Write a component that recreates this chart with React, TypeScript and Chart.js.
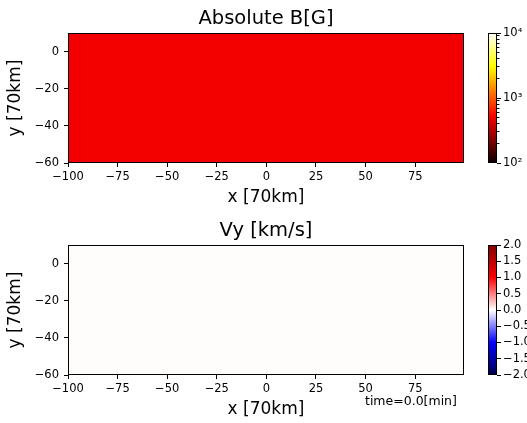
import React, { useEffect, useRef } from 'react';
import { Chart, registerables } from 'chart.js';

Chart.register(...registerables);

const FONT = 'DejaVu Sans';

// ---- data ----
const xEdges = [-100, 99.6];
const yEdges = [-60, 10];
const absB = [[490]];
const vyVals = [[0.01]];
const xTicks = [-100, -75, -50, -25, 0, 25, 50, 75];
const yTicks = [-60, -40, -20, 0];
const bRange = [100, 10000];
const bMajorTicks = [100, 1000, 10000];
const bMajorLabels = ['10²', '10³', '10⁴'];
const bMinorTicks = [200, 300, 400, 500, 600, 700, 800, 900, 2000, 3000, 4000, 5000, 6000, 7000, 8000, 9000];
const vyRange = [-2, 2];
const vyTicks = [-2, -1.5, -1, -0.5, 0, 0.5, 1, 1.5, 2];
const titleB = 'Absolute B[G]';
const titleVy = 'Vy [km/s]';
const xLabel = 'x [70km]';
const yLabel = 'y [70km]';
const timeLabel = 'time=0.0[min]';

// ---- colormaps ----
type Stop = [number, [number, number, number]];
const HOT: Stop[] = [
  [0, [10.6, 0, 0]],
  [0.365079, [255, 0, 0]],
  [0.746032, [255, 255, 0]],
  [1, [255, 255, 255]],
];
const SEISMIC: Stop[] = [
  [0, [0, 0, 76.5]],
  [0.25, [0, 0, 255]],
  [0.5, [255, 255, 255]],
  [0.75, [255, 0, 0]],
  [1, [127.5, 0, 0]],
];

function cmap(stops: Stop[], t: number): string {
  const u = Math.max(0, Math.min(1, t));
  for (let i = 0; i < stops.length - 1; i++) {
    const [a, ca] = stops[i];
    const [b, cb] = stops[i + 1];
    if (u >= a && u <= b) {
      const f = b === a ? 0 : (u - a) / (b - a);
      const c = ca.map((v, k) => Math.round(v + (cb[k] - v) * f));
      return `rgb(${c[0]},${c[1]},${c[2]})`;
    }
  }
  const c = stops[stops.length - 1][1];
  return `rgb(${c[0]},${c[1]},${c[2]})`;
}

const normLog = (v: number) =>
  (Math.log10(v) - Math.log10(bRange[0])) / (Math.log10(bRange[1]) - Math.log10(bRange[0]));
const normLin = (v: number) => (v - vyRange[0]) / (vyRange[1] - vyRange[0]);

const fmtNum = (v: number) => (v < 0 ? '\u2212' + Math.abs(v) : String(v));
const fmtFixed = (v: number) => (v < 0 ? '\u2212' + Math.abs(v).toFixed(1) : v.toFixed(1));

const TXT = '#000';
const LINE = '#000';

function heatmapPlugin(values: number[][], norm: (v: number) => number, stops: Stop[]) {
  return {
    id: 'heatmap',
    beforeDatasetsDraw(chart: any) {
      const { ctx, chartArea } = chart;
      const xs = chart.scales.x;
      const ys = chart.scales.y;
      ctx.save();
      ctx.beginPath();
      ctx.rect(chartArea.left, chartArea.top, chartArea.right - chartArea.left, chartArea.bottom - chartArea.top);
      ctx.clip();
      for (let j = 0; j < values.length; j++) {
        for (let i = 0; i < values[j].length; i++) {
          const x0 = xs.getPixelForValue(xEdges[i]);
          const x1 = xs.getPixelForValue(xEdges[i + 1]);
          const y0 = ys.getPixelForValue(yEdges[j]);
          const y1 = ys.getPixelForValue(yEdges[j + 1]);
          ctx.fillStyle = cmap(stops, norm(values[j][i]));
          ctx.fillRect(Math.min(x0, x1), Math.min(y0, y1), Math.abs(x1 - x0), Math.abs(y1 - y0));
        }
      }
      ctx.restore();
    },
  };
}

const framePlugin = {
  id: 'frame',
  afterDatasetsDraw(chart: any) {
    const { ctx, chartArea } = chart;
    ctx.save();
    ctx.strokeStyle = LINE;
    ctx.lineWidth = 1;
    const l = Math.round(chartArea.left) + 0.5;
    const t = Math.round(chartArea.top) + 0.5;
    const r = Math.round(chartArea.right) - 0.5;
    const b = Math.round(chartArea.bottom) - 0.5;
    ctx.strokeRect(l, t, r - l, b - t);
    ctx.restore();
  },
};

function colorbarPlugin(stops: Stop[]) {
  return {
    id: 'colorbar',
    beforeDatasetsDraw(chart: any) {
      const { ctx, chartArea } = chart;
      const ys = chart.scales.y;
      const pBottom = ys.getPixelForValue(ys.min);
      const pTop = ys.getPixelForValue(ys.max);
      const g = ctx.createLinearGradient(0, pBottom, 0, pTop);
      for (const [t, c] of stops) g.addColorStop(t, `rgb(${c[0]},${c[1]},${c[2]})`);
      ctx.save();
      ctx.fillStyle = g;
      ctx.fillRect(chartArea.left, chartArea.top, chartArea.right - chartArea.left, chartArea.bottom - chartArea.top);
      ctx.restore();
    },
  };
}

const timePlugin = {
  id: 'timeText',
  afterDraw(chart: any) {
    const { ctx } = chart;
    ctx.save();
    ctx.font = `12.5px "${FONT}"`;
    ctx.fillStyle = TXT;
    ctx.textAlign = 'left';
    ctx.textBaseline = 'alphabetic';
    ctx.fillText(timeLabel, 365, 405);
    ctx.restore();
  },
};

function mainConfig(opts: {
  title: string;
  values: number[][];
  norm: (v: number) => number;
  stops: Stop[];
  padTop: number;
  padBottom: number;
  extra?: any[];
}): any {
  return {
    type: 'scatter',
    data: { datasets: [] },
    options: {
      animation: false,
      responsive: false,
      devicePixelRatio: 1,
      events: [],
      layout: { padding: { left: 0, right: 63, top: opts.padTop, bottom: opts.padBottom } },
      plugins: {
        legend: { display: false },
        tooltip: { enabled: false },
        title: {
          display: true,
          text: opts.title,
          fullSize: false,
          color: TXT,
          font: { family: FONT, size: 19.5, weight: 'normal', lineHeight: 1.2 },
          padding: { top: 0, bottom: 2.3 },
        },
      },
      scales: {
        x: {
          type: 'linear',
          min: xEdges[0],
          max: xEdges[xEdges.length - 1],
          afterBuildTicks: (s: any) => {
            s.ticks = xTicks.map((v) => ({ value: v }));
          },
          afterFit: (s: any) => {
            s.height = 44.7;
          },
          grid: { drawOnChartArea: false, drawTicks: true, tickLength: 4, tickColor: LINE, tickWidth: 1 },
          border: { display: false },
          ticks: {
            color: TXT,
            font: { family: FONT, size: 11.5 },
            padding: 3,
            maxRotation: 0,
            autoSkip: false,
            callback: (v: any) => fmtNum(Number(v)),
          },
          title: {
            display: true,
            text: xLabel,
            color: TXT,
            font: { family: FONT, size: 17, lineHeight: 1.2 },
            padding: 0,
          },
        },
        y: {
          type: 'linear',
          min: yEdges[0],
          max: yEdges[yEdges.length - 1],
          afterBuildTicks: (s: any) => {
            s.ticks = yTicks.map((v) => ({ value: v }));
          },
          afterFit: (s: any) => {
            s.width = 68;
          },
          grid: { drawOnChartArea: false, drawTicks: true, tickLength: 4, tickColor: LINE, tickWidth: 1 },
          border: { display: false },
          ticks: {
            color: TXT,
            font: { family: FONT, size: 11.5 },
            padding: 5,
            autoSkip: false,
            callback: (v: any) => fmtNum(Number(v)),
          },
          title: {
            display: true,
            text: yLabel,
            color: TXT,
            font: { family: FONT, size: 17, lineHeight: 1.2 },
            padding: { top: 5.8, bottom: 0 },
          },
        },
      },
    },
    plugins: [heatmapPlugin(opts.values, opts.norm, opts.stops), framePlugin, ...(opts.extra || [])],
  };
}

function colorbarConfig(opts: {
  log: boolean;
  range: number[];
  major: number[];
  labels: string[];
  minor: number[];
  stops: Stop[];
  padTop: number;
  padBottom: number;
}): any {
  const scaleType = opts.log ? 'logarithmic' : 'linear';
  const scales: any = {
    x: { display: false, type: 'linear', min: 0, max: 1 },
    y: {
      type: scaleType,
      position: 'right',
      weight: 1,
      min: opts.range[0],
      max: opts.range[1],
      afterBuildTicks: (s: any) => {
        s.ticks = opts.major.map((v) => ({ value: v }));
      },
      afterFit: (s: any) => {
        s.width = 30;
      },
      grid: { drawOnChartArea: false, drawTicks: true, tickLength: 4, tickColor: LINE, tickWidth: 1 },
      border: { display: false },
      ticks: {
        color: TXT,
        font: { family: FONT, size: 11.5 },
        padding: 2,
        autoSkip: false,
        callback: (_v: any, i: number) => opts.labels[i],
      },
    },
  };
  if (opts.minor.length) {
    scales.yMinor = {
      type: scaleType,
      position: 'right',
      weight: 0,
      min: opts.range[0],
      max: opts.range[1],
      afterBuildTicks: (s: any) => {
        s.ticks = opts.minor.map((v) => ({ value: v }));
      },
      afterFit: (s: any) => {
        s.width = 0;
      },
      grid: { drawOnChartArea: false, drawTicks: true, tickLength: 2.5, tickColor: LINE, tickWidth: 1 },
      border: { display: false },
      ticks: { display: false },
    };
  }
  return {
    type: 'scatter',
    data: { datasets: [] },
    options: {
      animation: false,
      responsive: false,
      devicePixelRatio: 1,
      events: [],
      layout: { padding: { left: 488, right: 0, top: opts.padTop, bottom: opts.padBottom } },
      plugins: { legend: { display: false }, tooltip: { enabled: false }, title: { display: false } },
      scales,
    },
    plugins: [colorbarPlugin(opts.stops), framePlugin],
  };
}

function ChartLayer({ make }: { make: () => any }) {
  const ref = useRef<HTMLCanvasElement | null>(null);
  useEffect(() => {
    if (!ref.current) return;
    const chart = new Chart(ref.current, make());
    return () => chart.destroy();
  }, []);
  return (
    <canvas
      ref={ref}
      width={527}
      height={423}
      style={{ position: 'absolute', left: 0, top: 0, width: 527, height: 423 }}
    />
  );
}

export default function App() {
  return (
    <div style={{ position: 'absolute', left: 0, top: 0, width: 527, height: 423, background: '#fff', overflow: 'hidden' }}>
      <ChartLayer
        make={() =>
          mainConfig({ title: titleB, values: absB, norm: normLog, stops: HOT, padTop: 7.3, padBottom: 215.3 })
        }
      />
      <ChartLayer
        make={() =>
          mainConfig({
            title: titleVy,
            values: vyVals,
            norm: normLin,
            stops: SEISMIC,
            padTop: 219.3,
            padBottom: 3.3,
            extra: [timePlugin],
          })
        }
      />
      <ChartLayer
        make={() =>
          colorbarConfig({
            log: true,
            range: bRange,
            major: bMajorTicks,
            labels: bMajorLabels,
            minor: bMinorTicks,
            stops: HOT,
            padTop: 33,
            padBottom: 260,
          })
        }
      />
      <ChartLayer
        make={() =>
          colorbarConfig({
            log: false,
            range: vyRange,
            major: vyTicks,
            labels: vyTicks.map(fmtFixed),
            minor: [],
            stops: SEISMIC,
            padTop: 245,
            padBottom: 48,
          })
        }
      />
    </div>
  );
}
